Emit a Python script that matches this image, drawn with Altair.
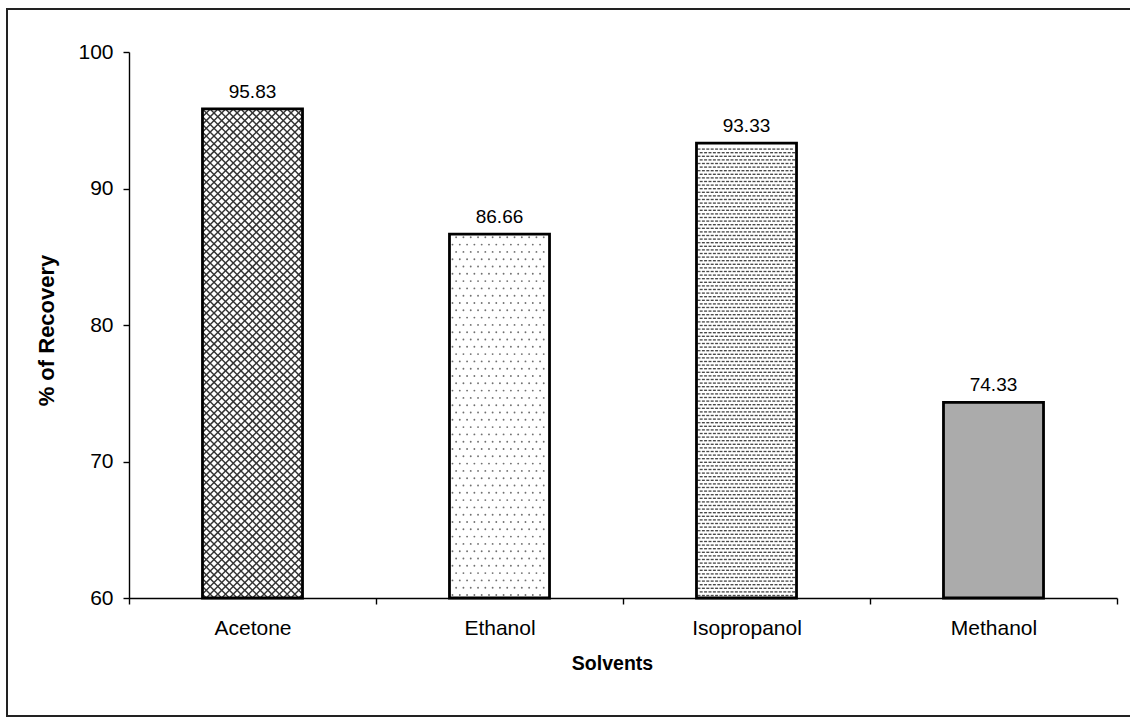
import altair as alt
import numpy as np
import pandas as pd

# ---- data -------------------------------------------------------------
solvents = ["Acetone", "Ethanol", "Isopropanol", "Methanol"]
recovery = [95.83, 86.66, 93.33, 74.33]
y_ticks = [60, 70, 80, 90, 100]

# ---- geometry ---------------------------------------------------------
PLOT_W, PLOT_H = 988, 546
Y_MIN, Y_MAX = 60, 100
X_MAX = len(solvents)
BAR_HALF = 0.2025                     # half bar width, in band units
PX_X = PLOT_W / X_MAX                 # pixels per x unit
PX_Y = PLOT_H / (Y_MAX - Y_MIN)       # pixels per y unit

centers = [i + 0.5 for i in range(len(solvents))]
base_fill = ["white", "white", "white", "#ababab"]

bars = pd.DataFrame({
    "solvent": solvents,
    "recovery": recovery,
    "center": centers,
    "x0": [c - BAR_HALF for c in centers],
    "x1": [c + BAR_HALF for c in centers],
    "base": [Y_MIN] * len(solvents),
    "fill": base_fill,
})


def bar_box(i):
    """Bar i as (left x, bottom y, width px, height px)."""
    return centers[i] - BAR_HALF, Y_MIN, 2 * BAR_HALF * PX_X, (recovery[i] - Y_MIN) * PX_Y


def crosshatch(i, step):
    """Diagonal cross-hatch segments clipped to bar i."""
    x0, y0, W, H = bar_box(i)
    rows = []
    for c in np.arange(-W + step / 2, H, step):      # y = x + c
        xs, xe = max(0.0, -c), min(W, H - c)
        if xe > xs:
            rows.append((xs, xs + c, xe, xe + c))
    for c in np.arange(step / 2, W + H, step):       # y = -x + c
        xs, xe = max(0.0, c - H), min(W, c)
        if xe > xs:
            rows.append((xs, c - xs, xe, c - xe))
    return pd.DataFrame({
        "x": [x0 + r[0] / PX_X for r in rows],
        "y": [y0 + r[1] / PX_Y for r in rows],
        "x2": [x0 + r[2] / PX_X for r in rows],
        "y2": [y0 + r[3] / PX_Y for r in rows],
    })


def stagger(i, sx, sy, inset=2.0):
    """Staggered grid of texture points inside bar i."""
    x0, y0, W, H = bar_box(i)
    xs, ys = [], []
    for k, py in enumerate(np.arange(inset, H - inset, sy)):
        off = (k % 2) * sx / 2
        for px in np.arange(inset + off, W - inset, sx):
            xs.append(x0 + px / PX_X)
            ys.append(y0 + py / PX_Y)
    return pd.DataFrame({"x": xs, "y": ys})


hatch_df = crosshatch(0, 7.7)
dots_df = stagger(1, 7.3, 7.3, inset=3.0)
brick_df = stagger(2, 4.4, 3.6, inset=2.5)

# ---- shared scales / axes ---------------------------------------------
label_expr = "".join(
    f"datum.value === {c} ? '{s}' : " for c, s in zip(centers, solvents)
) + "''"

x_scale = alt.Scale(domain=[0, X_MAX], nice=False, zero=False)
y_scale = alt.Scale(domain=[Y_MIN, Y_MAX], nice=False, zero=False)
x_axis = alt.Axis(
    values=[v / 2 for v in range(2 * X_MAX + 1)],
    labelExpr=label_expr,
    tickOpacity={"condition": {"test": "datum.value % 1 === 0", "value": 1}, "value": 0},
    title="Solvents",
    grid=False,
    labelFontSize=21,
    labelPadding=13,
    titleFontSize=19.5,
    titlePadding=16,
    titleX=PLOT_W / 2 - 11,
)
y_axis = alt.Axis(values=y_ticks, title="% of Recovery", grid=False,
                  labelFontSize=21, labelPadding=10,
                  titleFontSize=22, titlePadding=19, titleY=PLOT_H / 2 + 5)


def X(field):
    return alt.X(field, type="quantitative", scale=x_scale, axis=x_axis)


def Y(field):
    return alt.Y(field, type="quantitative", scale=y_scale, axis=y_axis)


# ---- layers -----------------------------------------------------------
frame = alt.Chart(pd.DataFrame({"k": [0]})).mark_rect(
    fillOpacity=0, stroke="#222222", strokeWidth=2
).encode(x=alt.value(-122), x2=alt.value(1011), y=alt.value(-43), y2=alt.value(664))

fills = alt.Chart(bars).mark_rect().encode(
    x=X("x0"), x2="x1", y=Y("base"), y2="recovery",
    fill=alt.Fill("fill:N", scale=None),
)

hatch = alt.Chart(hatch_df).mark_rule(color="#333333", strokeWidth=1.45).encode(
    x=X("x"), y=Y("y"), x2="x2", y2="y2"
)

dots = alt.Chart(dots_df).mark_circle(size=3.5, color="#707070", opacity=1).encode(
    x=X("x"), y=Y("y")
)

# short horizontal dashes in a brick layout
bricks = alt.Chart(brick_df).mark_point(
    shape="M-1,-0.45H1V0.45H-1Z", size=9, filled=True, color="#4a4a4a", opacity=1
).encode(x=X("x"), y=Y("y"))

outline = alt.Chart(bars).mark_rect(fillOpacity=0, stroke="black", strokeWidth=2.8).encode(
    x=X("x0"), x2="x1", y=Y("base"), y2="recovery"
)

labels = alt.Chart(bars).mark_text(
    font="Liberation Sans", fontSize=19, baseline="bottom", dy=-7, color="black"
).encode(
    x=X("center"), y=Y("recovery"), text=alt.Text("recovery:Q", format=".2f")
)

chart = alt.layer(frame, fills, hatch, dots, bricks, outline, labels).properties(
    width=PLOT_W,
    height=PLOT_H,
    autosize=alt.AutoSizeParams(type="none"),
    padding={"left": 129, "top": 52, "right": 13, "bottom": 119},
    background="white",
).configure_view(stroke=None).configure_axis(
    domainColor="black", domainWidth=1.4,
    tickColor="black", tickWidth=1.4, tickSize=6,
    labelFont="Liberation Sans", labelColor="black",
    titleFont="Liberation Sans", titleFontWeight="bold", titleColor="black",
)

chart.save("out.html", embed_options={"renderer": "svg", "actions": False})
